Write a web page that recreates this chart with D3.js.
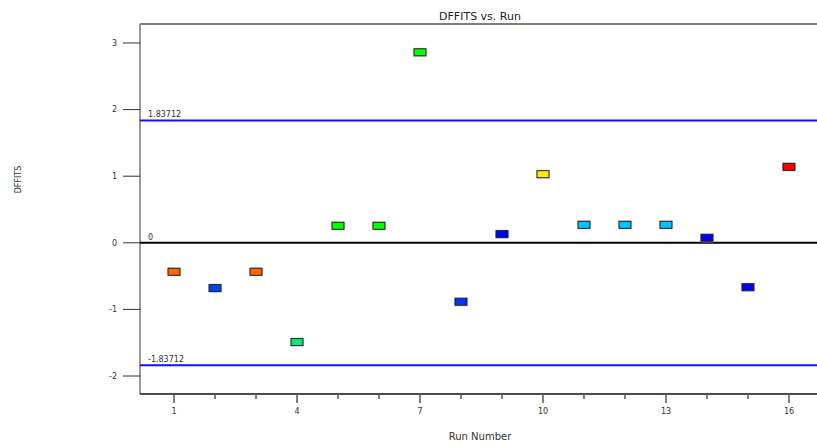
<!DOCTYPE html>
<html>
<head>
<meta charset="utf-8">
<script src="https://cdn.jsdelivr.net/npm/d3@7"></script>
<style>
  body { margin: 0; background: #fff; overflow: hidden; }
  text { font-family: 'DejaVu Sans', sans-serif; fill: #333; }
</style>
</head>
<body>
<div class="wrapper"></div>
<script>
const runs = [1, 2, 3, 4, 5, 6, 7, 8, 9, 10, 11, 12, 13, 14, 15, 16]
const dffits = [-0.435, -0.68, -0.435, -1.49, 0.255, 0.255, 2.86, -0.885, 0.13, 1.03, 0.27, 0.27, 0.27, 0.075, -0.667, 1.14]
const colors = ['#ff6600', '#0044ff', '#ff6600', '#00ee77', '#00ff00', '#00ff00', '#00ff00', '#0033ff',
  '#0000ff', '#ffee00', '#00c4ff', '#00c4ff', '#00c4ff', '#0000ff', '#0000ff', '#ff0000']
const limit = 1.83712
const yTicks = [-2, -1, 0, 1, 2, 3]
const xMajor = [1, 4, 7, 10, 13, 16]

const width = 817, height = 446
const margin = { top: 24, right: -6, bottom: 52, left: 140 }

const svg = d3.select('.wrapper')
  .append('svg')
  .attr('width', width)
  .attr('height', height)

const x = d3.scaleLinear()
  .domain([0.17, 16.83])
  .range([margin.left, width - margin.right])

const y = d3.scaleLinear()
  .domain([-2.27, 3.285])
  .range([height - margin.bottom, margin.top])

// title
svg.append('text')
  .attr('x', 480).attr('y', 20)
  .attr('text-anchor', 'middle')
  .style('font-size', '11px')
  .style('fill', '#222')
  .text('DFFITS vs. Run')

// frame
svg.append('line')
  .attr('x1', margin.left).attr('x2', width)
  .attr('y1', margin.top).attr('y2', margin.top)
  .attr('stroke', '#555').attr('stroke-width', 1.5)

svg.append('line')
  .attr('x1', margin.left).attr('x2', margin.left)
  .attr('y1', margin.top).attr('y2', height - margin.bottom)
  .attr('stroke', '#777').attr('stroke-width', 1.5)

svg.append('line')
  .attr('x1', margin.left).attr('x2', width)
  .attr('y1', height - margin.bottom).attr('y2', height - margin.bottom)
  .attr('stroke', '#111').attr('stroke-width', 1.5)

// y axis ticks
const yAxis = svg.append('g')
yAxis.selectAll('line')
  .data(yTicks)
  .join('line')
  .attr('x1', margin.left - 17).attr('x2', margin.left)
  .attr('y1', d => y(d)).attr('y2', d => y(d))
  .attr('stroke', '#333').attr('stroke-width', 1)
yAxis.selectAll('text')
  .data(yTicks)
  .join('text')
  .attr('x', 117).attr('y', d => y(d))
  .attr('dy', '0.35em')
  .attr('text-anchor', 'end')
  .style('font-size', '8px')
  .text(d => d)

// x axis ticks
const xAxis = svg.append('g')
xAxis.selectAll('line')
  .data(d3.range(1, 17))
  .join('line')
  .attr('x1', d => x(d)).attr('x2', d => x(d))
  .attr('y1', height - margin.bottom)
  .attr('y2', d => height - margin.bottom + (xMajor.includes(d) ? 9 : 5))
  .attr('stroke', '#555').attr('stroke-width', 1.5)
xAxis.selectAll('text')
  .data(xMajor)
  .join('text')
  .attr('x', d => x(d)).attr('y', 414)
  .attr('text-anchor', 'middle')
  .style('font-size', '8px')
  .text(d => d)

// axis titles
svg.append('text')
  .attr('x', 480).attr('y', 440)
  .attr('text-anchor', 'middle')
  .style('font-size', '10px')
  .text('Run Number')

svg.append('text')
  .attr('transform', `translate(21, ${y(0.95)}) rotate(-90)`)
  .attr('text-anchor', 'middle')
  .style('font-size', '8px')
  .text('DFFITS')

// reference lines
const refs = [limit, 0, -limit]
svg.selectAll('line.ref')
  .data(refs)
  .join('line')
  .attr('class', 'ref')
  .attr('x1', margin.left).attr('x2', width)
  .attr('y1', d => y(d)).attr('y2', d => y(d))
  .attr('stroke', d => d === 0 ? '#000' : '#1010ff')
  .attr('stroke-width', 2)

svg.selectAll('text.ref')
  .data(refs)
  .join('text')
  .attr('class', 'ref')
  .attr('x', 148).attr('y', d => y(d) - 3)
  .style('font-size', '8px')
  .text(d => String(d))

// points
const w = 12, h = 7
const pts = svg.append('g')
  .selectAll('g')
  .data(runs)
  .join('g')
  .attr('transform', (d, i) => `translate(${x(d)}, ${y(dffits[i])})`)

pts.append('rect')
  .attr('x', -w / 2 - 0.5).attr('y', -h / 2 - 1)
  .attr('width', w + 1).attr('height', h + 2)
  .attr('fill', '#ccc')

pts.append('rect')
  .attr('x', -w / 2).attr('y', -h / 2)
  .attr('width', w).attr('height', h)
  .attr('fill', (d, i) => colors[i])
  .attr('stroke', '#222').attr('stroke-width', 1)
</script>
</body>
</html>
